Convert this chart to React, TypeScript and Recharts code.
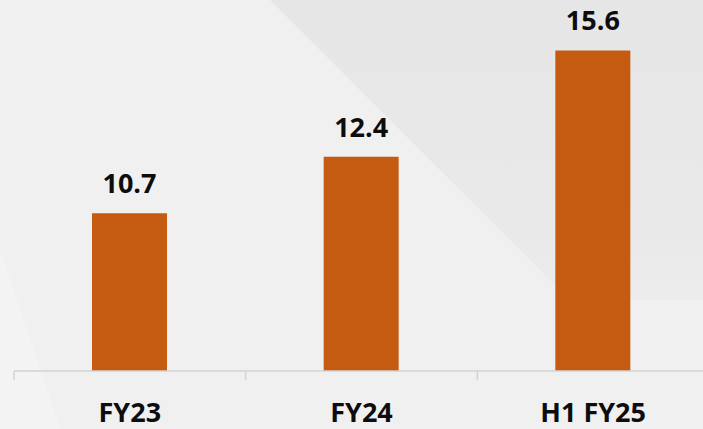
import React from 'react';
import { BarChart, Bar, XAxis, YAxis, LabelList } from 'recharts';

const categories = ['FY23', 'FY24', 'H1 FY25'];
const values = [10.7, 12.4, 15.6];

const data = categories.map((name, i) => ({ name, value: values[i] }));

const W = 709;
const H = 429;
const MARGIN = { top: 4, right: 0, left: 14, bottom: 0 };
const BAND = (W - MARGIN.left - MARGIN.right) / categories.length;
const FONT = '"Open Sans", "Liberation Sans", sans-serif';
const AXIS_COLOR = '#D3D3D3';

// tick marks sit on the band edges, label in the middle of the band
const CategoryTick = (props: any) => {
  const { x, y, payload, index } = props;
  const half = BAND / 2;
  return (
    <g>
      <line x1={x - half} x2={x - half} y1={y} y2={y + 9} stroke={AXIS_COLOR} strokeWidth={1.5} />
      {index === categories.length - 1 && (
        <line x1={x + half} x2={x + half} y1={y} y2={y + 9} stroke={AXIS_COLOR} strokeWidth={1.5} />
      )}
      <text
        x={x}
        y={y + 51}
        textAnchor="middle"
        fill="#0D0D0D"
        fontFamily={FONT}
        fontWeight={700}
        fontSize={27}
      >
        {payload.value}
      </text>
    </g>
  );
};

const App: React.FC = () => {
  return (
    <div
      style={{
        position: 'absolute',
        left: 0,
        top: 0,
        width: 703,
        height: H,
        overflow: 'hidden',
        background: '#F0F0F0',
      }}
    >
      {/* soft diagonal shapes from the slide background */}
      <div
        style={{
          position: 'absolute',
          inset: 0,
          background: 'linear-gradient(180deg, #E6E6E6 0%, #E9E9E9 55%, #EFEFEF 80%)',
          clipPath: 'polygon(270px 0, 703px 0, 703px 300px, 570px 300px)',
        }}
      />
      <div
        style={{
          position: 'absolute',
          inset: 0,
          background: '#F3F3F3',
          clipPath: 'polygon(0 250px, 60px 429px, 0 429px)',
        }}
      />
      <div style={{ position: 'absolute', left: 0, top: 0 }}>
        <BarChart width={W} height={H} data={data} margin={MARGIN} barSize={75}>
          <YAxis hide domain={[5.95, 17]} />
          <XAxis
            dataKey="name"
            height={H - 371 - MARGIN.bottom}
            axisLine={{ stroke: AXIS_COLOR, strokeWidth: 1.5 }}
            tickLine={false}
            tickSize={0}
            tickMargin={0}
            interval={0}
            tick={<CategoryTick />}
          />
          <Bar dataKey="value" fill="#C55A11" isAnimationActive={false}>
            <LabelList
              dataKey="value"
              position="top"
              offset={20}
              fill="#0D0D0D"
              fontFamily={FONT}
              fontWeight={700}
              fontSize={27}
            />
          </Bar>
        </BarChart>
      </div>
    </div>
  );
};

export default App;
